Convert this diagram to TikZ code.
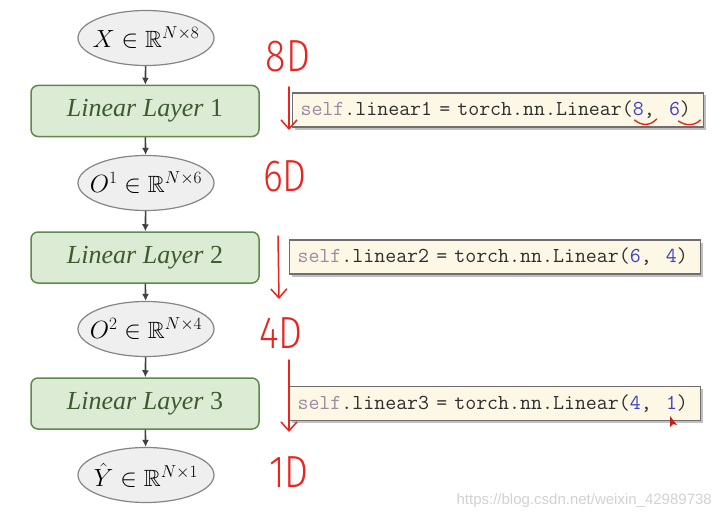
\documentclass[tikz,border=0pt]{standalone}
\usepackage{fontspec}
\usepackage{amssymb}
\usetikzlibrary{shapes.geometric,arrows.meta,shadows,calc}
\setmainfont{Liberation Serif}
\newfontfamily\handfont{Fira Sans}[UprightFont={* Light}]
\newfontfamily\wmfont{Liberation Sans}
\newcommand\codefont{\ttfamily\fontsize{21.3}{24}\selectfont}
\newlength\preA \newlength\preB \newlength\charW
\definecolor{ellfill}{HTML}{EFEFEF}
\definecolor{elldraw}{HTML}{858585}
\definecolor{boxfill}{HTML}{DCEBD4}
\definecolor{boxdraw}{HTML}{5E8A4A}
\definecolor{boxtext}{HTML}{3D5A2E}
\definecolor{flowc}{HTML}{404040}
\definecolor{codefill}{HTML}{FDF8E6}
\definecolor{codedraw}{HTML}{6E6E6E}
\definecolor{selfc}{HTML}{9C8AA2}
\definecolor{numc}{HTML}{3B3FC4}
\definecolor{codetext}{HTML}{2E2E2E}
\definecolor{handred}{HTML}{E8251F}
\definecolor{wmc}{HTML}{D2D2D2}
\tikzset{
  datanode/.style={ellipse, draw=elldraw, fill=ellfill, line width=1.2pt,
    minimum width=136pt, minimum height=55pt, inner sep=0pt,
    font=\fontsize{23.5}{27}\selectfont},
  layerbox/.style={rectangle, rounded corners=7pt, draw=boxdraw, fill=boxfill,
    line width=1.5pt, minimum width=228pt, minimum height=51pt, inner sep=0pt,
    text=boxtext, font=\fontsize{26}{30}\selectfont},
  flow/.style={draw=flowc, line width=1.6pt, -{Latex[length=7pt,width=7pt]}},
  codebox/.style={rectangle, draw=codedraw, fill=codefill, line width=1.1pt,
    anchor=west, minimum height=34pt, text width=395pt, inner xsep=8pt,
    inner ysep=0pt, align=left, text=codetext, font=\codefont,
    drop shadow={shadow xshift=2.5pt, shadow yshift=-2.5pt, fill=black!35, opacity=0.7}},
  handtext/.style={text=handred, inner sep=0pt, font=\handfont\fontsize{36}{36}\selectfont},
  handarrow/.style={draw=handred, line width=1.5pt, line cap=round,
    -{Straight Barb[length=9pt,width=16pt,line width=1.5pt]}},
  handline/.style={draw=handred, line width=1.4pt, line cap=round},
  wmtext/.style={text=wmc, inner sep=0pt, font=\wmfont\fontsize{15}{17}\selectfont}
}
\begin{document}
\settowidth\preA{\codefont self.linear1 = torch.nn.Linear(}%
\settowidth\preB{\codefont self.linear1 = torch.nn.Linear(8,\ \ }%
\settowidth\charW{\codefont 8}%
\begin{tikzpicture}[x=1pt,y=-1pt]
\useasboundingbox[fill=white] (0,0) rectangle (721,519);

% main chain
\node[datanode] (x)  at (146,38)  {\makebox[60pt]{$X \in \mathbb{R}^{N\times 8}$}};
\node[layerbox] (l1) at (145,111) {\textit{Linear Layer} 1};
\node[datanode] (o1) at (146,183) {\makebox[60pt]{$O^1 \in \mathbb{R}^{N\times 6}$}};
\node[layerbox] (l2) at (145,257.5) {\textit{Linear Layer} 2};
\node[datanode] (o2) at (146,329) {\makebox[60pt]{$O^2 \in \mathbb{R}^{N\times 4}$}};
\node[layerbox] (l3) at (145,403.5) {\textit{Linear Layer} 3};
\node[datanode] (y)  at (146,475) {\makebox[60pt]{$\hat{Y} \in \mathbb{R}^{N\times 1}$}};

\draw[flow] (x) -- (l1);
\draw[flow] (l1) -- (o1);
\draw[flow] (o1) -- (l2);
\draw[flow] (l2) -- (o2);
\draw[flow] (o2) -- (l3);
\draw[flow] (l3) -- (y);

% code boxes
\node[codebox] (c1) at (292,110) {\mbox{{\color{selfc}self}.linear1 = torch.nn.Linear({\color{numc}8},\ \ {\color{numc}6})}};
\node[codebox] (c2) at (289,257) {\mbox{{\color{selfc}self}.linear2 = torch.nn.Linear({\color{numc}6},\ \ {\color{numc}4})}};
\node[codebox] (c3) at (289,403.5) {\mbox{{\color{selfc}self}.linear3 = torch.nn.Linear({\color{numc}4},\ \ {\color{numc}1})}};

% handwritten annotations
\node[handtext] (d8) at (288,56)  {\scalebox{1.05}[1.25]{8D}};
\node[handtext] (d6) at (285,176) {\scalebox{1.05}[1.25]{6D}};
\node[handtext] (d4) at (281,333) {\scalebox{1.05}[1.25]{4D}};
\node[handtext] (d1) at (289,472) {\scalebox{1.05}[1.25]{1D}};

\coordinate (a1s) at (289,87);
\coordinate (a1e) at (289,130);
\coordinate (a2s) at (278,236);
\coordinate (a2e) at (279,299);
\coordinate (a3s) at (289,360);
\coordinate (a3e) at (289,432);
\draw[handarrow] (a1s) -- (a1e);
\draw[handarrow] (a2s) -- (a2e);
\draw[handarrow] (a3s) -- (a3e);

% underlines under 8 and 6
\coordinate (u8) at ($(c1.west)+(8pt+\preA+0.5*\charW,0pt)$);
\coordinate (u6) at ($(c1.west)+(8pt+\preB+0.5*\charW,0pt)$);
\coordinate (u8a) at ($(u8)+(-11,10)$);
\coordinate (u8b) at ($(u8)+(-4,16)$);
\coordinate (u8c) at ($(u8)+(5,16)$);
\coordinate (u8d) at ($(u8)+(11,9)$);
\coordinate (u6a) at ($(u6)+(-11,11)$);
\coordinate (u6b) at ($(u6)+(-4,16)$);
\coordinate (u6c) at ($(u6)+(5,16)$);
\coordinate (u6d) at ($(u6)+(11,10)$);
\draw[handline] (u8a) .. controls (u8b) and (u8c) .. (u8d);
\draw[handline] (u6a) .. controls (u6b) and (u6c) .. (u6d);

% mouse cursor
\fill[handred!85!black] (670,416) -- (670,427) -- (673,424) -- (677,425) -- cycle;

% watermark
\node[wmtext, anchor=east] (wm) at (712,501) {https://blog.csdn.net/weixin\_42989738};
\end{tikzpicture}
\end{document}
